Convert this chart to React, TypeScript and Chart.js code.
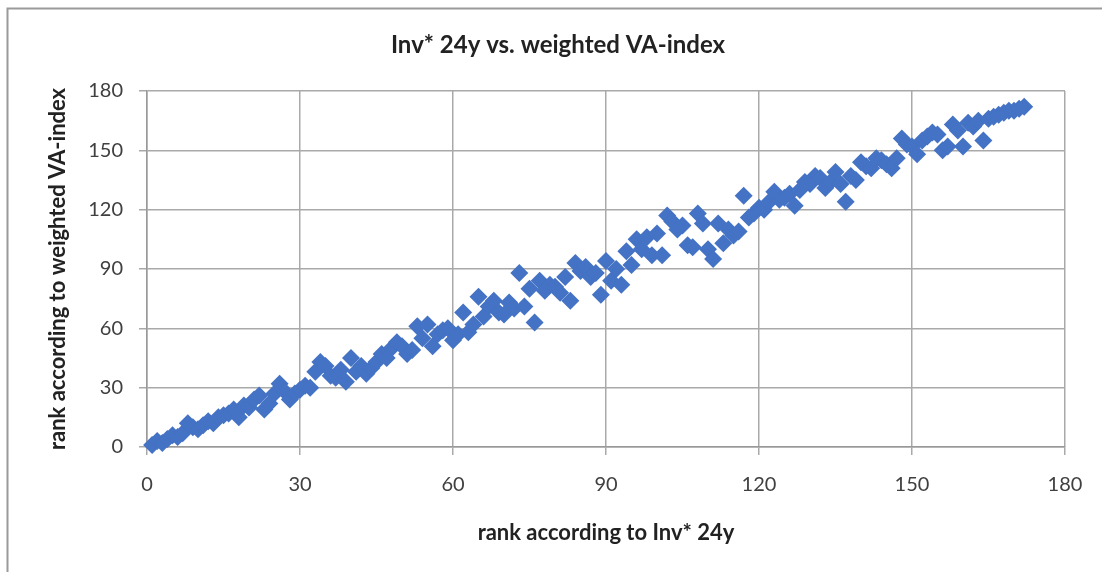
import { useEffect, useRef } from "react";
import { Chart, registerables } from "chart.js";

Chart.register(...registerables);

const chartTitle = "Inv* 24y vs. weighted VA-index";
const xAxisTitle = "rank according to Inv* 24y";
const yAxisTitle = "rank according to weighted VA-index";
const axisTicks = [0, 30, 60, 90, 120, 150, 180];

const invRank = [
  1, 2, 3, 4, 5, 6, 7, 8, 9, 10,
  11, 12, 13, 14, 15, 16, 17, 18, 19, 20,
  21, 22, 23, 24, 25, 26, 27, 28, 29, 30,
  31, 32, 33, 34, 35, 36, 37, 38, 39, 40,
  41, 42, 43, 44, 45, 46, 47, 48, 49, 50,
  51, 52, 53, 54, 55, 56, 57, 58, 59, 60,
  61, 62, 63, 64, 65, 66, 67, 68, 69, 70,
  71, 72, 73, 74, 75, 76, 77, 78, 79, 80,
  81, 82, 83, 84, 85, 86, 87, 88, 89, 90,
  91, 92, 93, 94, 95, 96, 97, 98, 99, 100,
  101, 102, 103, 104, 105, 106, 107, 108, 109, 110,
  111, 112, 113, 114, 115, 116, 117, 118, 119, 120,
  121, 122, 123, 124, 125, 126, 127, 128, 129, 130,
  131, 132, 133, 134, 135, 136, 137, 138, 139, 140,
  141, 142, 143, 144, 145, 146, 147, 148, 149, 150,
  151, 152, 153, 154, 155, 156, 157, 158, 159, 160,
  161, 162, 163, 164, 165, 166, 167, 168, 169, 170,
  171, 172,
];

const vaRank = [
  1, 3, 2, 4, 6, 5, 7, 12, 10, 9,
  11, 13, 12, 15, 16, 17, 19, 15, 21, 20,
  24, 26, 19, 22, 27, 32, 28, 24, 27, 29,
  31, 30, 38, 43, 41, 36, 35, 39, 33, 45,
  38, 41, 37, 40, 43, 47, 45, 50, 53, 51,
  47, 49, 61, 55, 62, 51, 57, 59, 60, 54,
  57, 68, 58, 62, 76, 66, 71, 74, 68, 67,
  73, 70, 88, 71, 80, 63, 84, 79, 82, 81,
  78, 86, 74, 93, 89, 91, 86, 88, 77, 94,
  84, 90, 82, 99, 92, 105, 100, 106, 97, 108,
  97, 117, 114, 110, 112, 102, 101, 118, 113, 100,
  95, 113, 103, 110, 107, 109, 127, 116, 118, 121,
  120, 124, 129, 125, 126, 128, 122, 130, 134, 133,
  137, 136, 131, 134, 139, 133, 124, 137, 135, 144,
  142, 141, 146, 145, 143, 141, 146, 156, 153, 152,
  148, 155, 157, 159, 158, 150, 152, 163, 160, 152,
  164, 162, 165, 155, 166, 167, 168, 169, 170, 170,
  171, 172,
];

const FONT = "Lato, 'Open Sans', sans-serif";
const GRID = "#a9a9a9";

const framePlugin = {
  id: "frameAndTitle",
  afterDraw(chart: any) {
    const ctx = chart.ctx as CanvasRenderingContext2D;
    ctx.save();
    ctx.strokeStyle = "#9a9a9a";
    ctx.lineWidth = 2;
    ctx.beginPath();
    ctx.moveTo(7.5, 572);
    ctx.lineTo(7.5, 8.5);
    ctx.lineTo(1102, 8.5);
    ctx.stroke();
    ctx.fillStyle = "#222222";
    ctx.font = `bold 24px ${FONT}`;
    ctx.textAlign = "center";
    ctx.textBaseline = "middle";
    ctx.fillText(chartTitle, 558, 45);
    ctx.restore();
  },
};

export default function App() {
  const ref = useRef<HTMLCanvasElement>(null);
  useEffect(() => {
    document.body.style.margin = "0";
    const points = invRank.map((x, i) => ({ x, y: vaRank[i] }));
    const axisCommon = (title: string, titlePadding: any, tickPadding: number) => ({
      type: "linear" as const,
      min: 0,
      max: 180,
      afterBuildTicks: (s: any) => {
        s.ticks = axisTicks.map((v) => ({ value: v }));
      },
      ticks: {
        color: "#404040",
        font: { family: FONT, size: 20 },
        padding: tickPadding,
      },
      grid: {
        color: GRID,
        lineWidth: 1.5,
        drawTicks: true,
        tickLength: 8,
        tickColor: GRID,
      },
      border: { color: "#999999", width: 1.5 },
      title: {
        display: true,
        text: title,
        color: "#222222",
        font: { family: FONT, size: 22, weight: "bold" as const },
        padding: titlePadding,
      },
    });
    const chart = new Chart(ref.current!, {
      type: "scatter",
      data: {
        datasets: [
          {
            data: points,
            pointStyle: "rectRot",
            pointRadius: 9,
            pointHoverRadius: 9,
            backgroundColor: "#4472C4",
            borderColor: "#4472C4",
            borderWidth: 0,
            clip: false,
          } as any,
        ],
      },
      options: {
        responsive: false,
        animation: false,
        layout: { padding: { top: 91, left: 0, right: 37, bottom: 0 } },
        plugins: {
          legend: { display: false },
          tooltip: { enabled: false },
          title: { display: false },
        },
        scales: {
          x: {
            ...axisCommon(xAxisTitle, { top: 0, bottom: 26 }, 18),
            afterFit: (s: any) => {
              s.height = 125;
            },
          },
          y: {
            ...axisCommon(yAxisTitle, { top: 45, bottom: 0 }, 16),
            afterFit: (s: any) => {
              s.width = 147;
            },
          },
        } as any,
      },
      plugins: [framePlugin],
    });
    return () => chart.destroy();
  }, []);
  return (
    <canvas
      ref={ref}
      width={1102}
      height={572}
      style={{ display: "block", width: 1102, height: 572 }}
    />
  );
}
